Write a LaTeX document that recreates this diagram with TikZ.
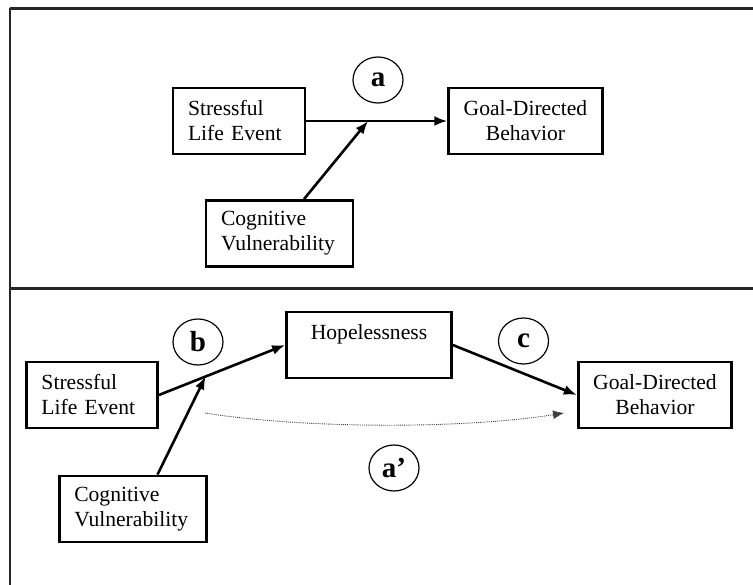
\documentclass[tikz,border=0pt]{standalone}
\usepackage{fontspec}
\setmainfont{Liberation Serif}
\usepackage{tikz}
\usetikzlibrary{calc}
\usetikzlibrary{arrows.meta}
\usetikzlibrary{positioning}
\usetikzlibrary{shapes.geometric}

\tikzset{
	box/.style={draw, line width=2.8pt, minimum height=66pt, inner xsep=15pt, inner ysep=0pt, font=\fontsize{21.6}{25}\selectfont},
	lbox/.style={box, text width=#1, align=left},
	cbox/.style={box, minimum width=#1, align=center},
	tag/.style={draw, ellipse, line width=1.2pt, minimum width=50pt, minimum height=46pt, inner sep=0pt, font=\fontsize{29}{29}\selectfont\bfseries},
	arr/.style={line width=2.6pt, -{Latex[length=13pt,width=10pt]}},
	dots/.style={densely dotted, line width=0.9pt, black!75, -{Latex[length=11pt,width=9pt]}},
	frame/.style={line width=2.2pt, black!85}
}

\begin{document}
\begin{tikzpicture}[x=1pt, y=-1pt]
	\useasboundingbox (0,0) rectangle (753,585);
	%\draw [help lines, step=50, gray] (0,0) grid (753,585);
	\draw [frame] (10,8.5) -- (753,8.5);
	\draw [frame] (10,8.5) -- (10,585);
	\draw [frame] (10,288.5) -- (753,288.5);

	% top panel
	\node (SLE) [lbox=102pt] at (239,121) {Stressful\\Life Event};
	\node (GDB) [cbox=147pt] at (525.5,121) {Goal-Directed\\Behavior};
	\node (CV) [lbox=117pt] at (279.5,233.5) {Cognitive\\Vulnerability};
	\node (a) [tag] at (378,80) {a};
	\coordinate (ma) at (368,121);

	\draw [arr] (SLE.east) -- (GDB.west);
	\draw [arr] ([xshift=24.5pt]CV.north) -- (ma);

	% bottom panel
	\node (SLE2) [lbox=101pt] at (92,395) {Stressful\\Life Event};
	\node (HOP) [cbox=165pt] at (369,345) {Hopelessness\\\mbox{}};
	\node (GDB2) [cbox=148pt] at (655,395) {Goal-Directed\\Behavior};
	\node (CV2) [lbox=117.5pt] at (133,509) {Cognitive\\Vulnerability};
	\node (b) [tag] at (198,342) {b};
	\node (c) [tag] at (523.5,341) {c};
	\node (a2) [tag] at (394,468) {a’};
	\coordinate (mb) at ($(SLE2.east)!0.37!(HOP.west)$);
	\coordinate (ds) at (205,413);
	\coordinate (de) at (564,413);

	\draw [arr] (SLE2.east) -- (HOP.west);
	\draw [arr] ([xshift=24.5pt]CV2.north) -- (mb);
	\draw [arr] (HOP.east) -- (GDB2.west);
	\draw [dots] (ds) .. controls +(100,16) and +(-100,16) .. (de);
\end{tikzpicture}
\end{document}
